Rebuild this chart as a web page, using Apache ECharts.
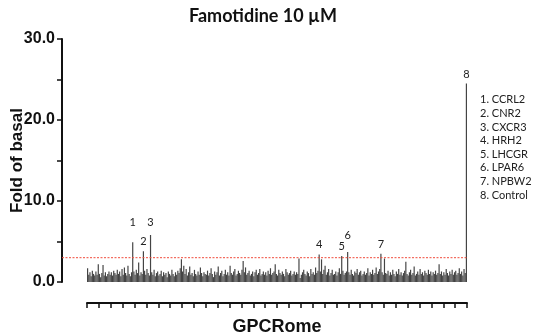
<!DOCTYPE html>
<html>
<head>
<meta charset="utf-8">
<script src="https://cdn.jsdelivr.net/npm/echarts@6/dist/echarts.min.js"></script>
<style>
  html, body { margin: 0; padding: 0; background: #fff; }
  #main { width: 533px; height: 333px; }
</style>
</head>
<body>
<div id="main"></div>
<script>
// fold of basal for each receptor, last one is the control
var foldValues = [
  1.7, 0.9, 1.2, 0.7, 1.4, 1.0, 0.8, 1.3, 0.9, 2.2,
  1.0, 0.6, 1.1, 2.1, 0.8, 1.2, 0.7, 1.0, 1.3, 0.9,
  1.2, 0.8, 1.4, 1.1, 0.9, 1.5, 1.0, 1.3, 0.7, 1.6,
  0.9, 1.8, 1.1, 0.8, 2.0, 1.0, 0.7, 1.2, 4.9, 1.3,
  0.9, 1.5, 1.1, 2.4, 0.8, 1.2, 1.0, 3.8, 1.4, 0.9,
  1.6, 1.1, 0.8, 5.8, 1.2, 0.9, 1.5, 0.7, 1.1, 1.3,
  0.8, 1.0, 1.4, 0.7, 1.2, 0.9, 1.1, 0.6, 1.3, 1.0,
  0.8, 1.5, 1.0, 0.7, 1.2, 0.9, 1.4, 1.1, 1.7, 2.8,
  1.3, 2.0, 1.0, 1.6, 0.8, 1.2, 1.9, 0.9, 1.1, 0.7,
  1.5, 1.0, 0.8, 1.3, 0.9, 1.8, 1.1, 0.7, 1.2, 1.0,
  0.9, 1.4, 0.8, 1.1, 1.7, 1.0, 0.6, 1.3, 0.9, 1.2,
  1.9, 0.8, 1.1, 1.4, 0.7, 1.0, 1.5, 0.9, 1.2, 0.8,
  2.0, 1.1, 0.9, 1.3, 1.6, 0.8, 1.0, 1.4, 1.1, 0.9,
  1.5, 2.6, 1.2, 1.8, 0.9, 1.1, 1.4, 0.8, 1.0, 1.3,
  0.7, 1.2, 1.5, 0.9, 1.1, 1.6, 0.8, 1.0, 1.3, 0.9,
  1.2, 0.8, 1.4, 1.0, 1.7, 0.9, 1.1, 1.3, 2.2, 1.0,
  0.8, 1.5, 1.1, 0.9, 1.3, 1.0, 0.7, 1.6, 1.2, 0.9,
  1.1, 1.4, 0.8, 1.0, 1.3, 0.9, 1.2, 1.0, 2.9, 0.5,
  0.9, 1.2, 1.5, 1.0, 0.8, 1.3, 1.1, 0.7, 1.6, 1.0,
  1.2, 0.9, 1.8, 1.1, 1.4, 3.4, 1.3, 2.8, 1.0, 1.5,
  2.0, 0.9, 1.2, 1.6, 0.8, 1.1, 1.5, 0.9, 1.0, 1.3,
  0.8, 1.2, 1.7, 1.0, 3.2, 1.4, 0.9, 1.1, 1.3, 3.7,
  1.2, 0.9, 1.5, 1.0, 0.8, 1.3, 1.1, 1.6, 0.9, 1.2,
  1.4, 0.8, 1.0, 1.3, 0.9, 1.1, 1.7, 0.8, 1.2, 1.0,
  1.5, 0.9, 1.1, 1.8, 1.0, 1.3, 1.6, 3.5, 1.2, 0.9,
  2.9, 1.1, 1.0, 1.4, 0.8, 1.2, 0.9, 1.5, 1.0, 0.7,
  1.3, 1.0, 1.6, 0.9, 1.2, 0.8, 1.1, 1.4, 2.5, 1.0,
  0.8, 1.2, 1.5, 0.9, 1.1, 1.9, 0.8, 1.0, 1.3, 0.9,
  1.6, 1.0, 1.2, 0.8, 1.4, 1.1, 0.9, 1.5, 1.0, 1.3,
  0.8, 1.2, 1.0, 1.4, 0.9, 1.1, 2.2, 1.0, 1.3, 0.8,
  1.2, 0.9, 1.6, 1.1, 0.8, 1.3, 1.0, 1.5, 0.9, 1.2,
  1.4, 0.9, 1.1, 1.7, 1.0, 1.3, 0.8, 1.6, 1.1,
  24.5
];
// labelled hits (index into foldValues) and their names
var hitIndex = [38, 47, 53, 195, 214, 219, 247, 319];
var hitNames = ['CCRL2', 'CNR2', 'CXCR3', 'HRH2', 'LHCGR', 'LPAR6', 'NPBW2', 'Control'];
var cutoff = 3.0;
var yTicks = [0, 10, 20, 30];

// label gap above each hit bar (style only)
var hitLabelGap = [14, 4, 7, 5, 4, 11, 4, 4];

var chart = echarts.init(document.getElementById('main'), null, { renderer: 'canvas' });

var categories = foldValues.map(function (v, i) { return 'R' + (i + 1); });
var barData = foldValues.map(function (v, i) {
  var k = hitIndex.indexOf(i);
  if (k < 0) return v;
  return {
    value: v,
    label: {
      show: true,
      position: 'top',
      distance: hitLabelGap[k],
      formatter: String(k + 1),
      fontFamily: 'Lato',
      fontSize: 11,
      color: '#222'
    }
  };
});

var legendText = hitNames.map(function (n, k) { return (k + 1) + '. ' + n; }).join('\n');

var option = {
  animation: false,
  backgroundColor: '#fff',
  title: {
    text: 'Famotidine 10 µM',
    left: 184,
    top: 2,
    textStyle: { fontFamily: 'Lato', fontWeight: 'bold', fontSize: 18, color: '#111' }
  },
  graphic: [{
    type: 'text',
    left: 480,
    top: 93,
    style: {
      text: legendText,
      fontFamily: 'Lato',
      fontSize: 11,
      lineHeight: 13.6,
      fill: '#222'
    }
  }],
  grid: [
    { left: 62, right: 66, top: 39, bottom: 51, outerBoundsMode: 'none' },
    { left: 87, right: 66, top: 39, bottom: 51, outerBoundsMode: 'none' }
  ],
  xAxis: [
    { gridIndex: 0, type: 'value', min: 0, max: 1, show: false },
    {
      gridIndex: 1, type: 'category', data: categories, show: false,
      position: 'bottom',
      boundaryGap: true
    },
    {
      gridIndex: 1, type: 'value', min: 0, max: foldValues.length, interval: 10,
      position: 'bottom',
      offset: 21,
      name: 'GPCRome',
      nameLocation: 'middle',
      nameGap: 15,
      nameTextStyle: { fontFamily: 'Liberation Sans', fontWeight: 'bold', fontSize: 18, color: '#111' },
      axisLine: { show: true, lineStyle: { color: '#111', width: 2 } },
      axisTick: { show: true, length: 5, lineStyle: { color: '#111', width: 1.5 } },
      axisLabel: { show: false },
      splitLine: { show: false }
    }
  ],
  yAxis: [
    {
      gridIndex: 0, type: 'value', min: 0, max: 30, interval: 5,
      name: 'Fold of basal',
      nameLocation: 'middle',
      nameRotate: 90,
      nameGap: 36,
      nameMoveOverlap: false,
      nameTextStyle: { fontFamily: 'Liberation Sans', fontWeight: 'bold', fontSize: 17, color: '#111' },
      axisLine: { show: true, lineStyle: { color: '#111', width: 2 } },
      axisTick: { show: true, length: 5, lineStyle: { color: '#111', width: 1.5 } },
      axisLabel: {
        margin: 7,
        fontFamily: 'Liberation Sans', fontWeight: 'bold', fontSize: 16, color: '#111',
        formatter: function (v) { return yTicks.indexOf(v) >= 0 ? v.toFixed(1) : ''; }
      },
      splitLine: { show: false }
    },
    { gridIndex: 1, type: 'value', min: 0, max: 30, show: false }
  ],
  series: [
    {
      // cut-off line across the whole plot
      type: 'line',
      xAxisIndex: 0,
      yAxisIndex: 0,
      data: [[0, cutoff], [1, cutoff]],
      symbol: 'none',
      silent: true,
      lineStyle: { color: '#f04a3a', type: [2, 1.5], width: 1 }
    },
    {
      type: 'bar',
      xAxisIndex: 1,
      yAxisIndex: 1,
      data: barData,
      barCategoryGap: '0%',
      itemStyle: { color: '#444' }
    }
  ]
};

chart.setOption(option);
</script>
</body>
</html>
